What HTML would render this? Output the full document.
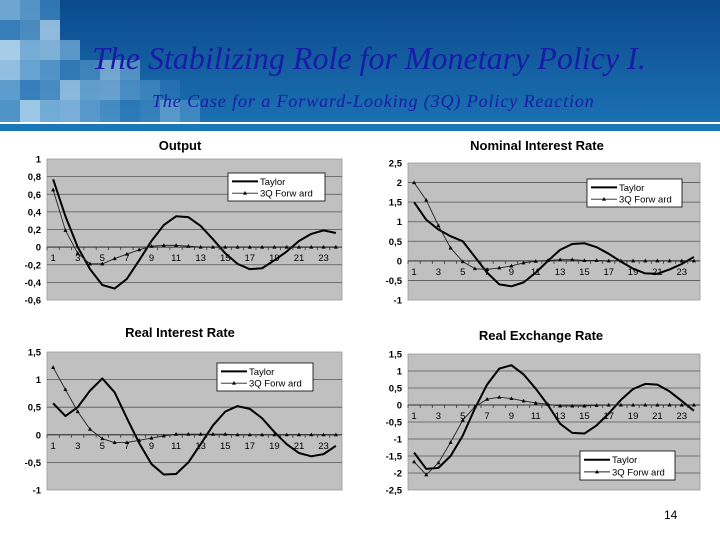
<!DOCTYPE html>
<html><head><meta charset="utf-8"><style>
body{margin:0;width:720px;height:540px;overflow:hidden;background:#fff;font-family:"Liberation Sans",sans-serif;position:relative}
#hdr{position:absolute;left:0;top:0;width:720px;height:122px;background:linear-gradient(#0b4a8c,#1a70b2)}
#band{position:absolute;left:0;top:124px;width:720px;height:7px;background:#1a78b8}
.sq{position:absolute;width:20px;height:20px}
#t1{position:absolute;left:92px;top:40px;font-family:"Liberation Serif",serif;font-style:italic;font-size:32px;color:#1a1aa8;white-space:nowrap}
#t2{position:absolute;left:152px;top:91px;font-family:"Liberation Serif",serif;font-style:italic;font-size:18px;letter-spacing:0.9px;color:#1a1aa8;white-space:nowrap}
#pn{position:absolute;left:664px;top:508px;font-size:12px;color:#000}
</style></head><body>
<div id="hdr"></div>
<div id="band"></div>
<div id="mosaic"></div>
<div id="t1">The Stabilizing Role for Monetary Policy I.</div>
<div id="t2">The Case for a Forward-Looking (3Q) Policy Reaction</div>
<div id="pn">14</div>
<svg id="svg" width="720" height="540" style="position:absolute;left:0;top:0"></svg>
<script>
const outTaylor=[0.77,0.35,0.0,-0.25,-0.43,-0.47,-0.36,-0.15,0.07,0.25,0.35,0.34,0.24,0.09,-0.07,-0.19,-0.25,-0.24,-0.15,-0.05,0.07,0.15,0.19,0.16];
const outFwd=[0.65,0.19,-0.07,-0.19,-0.19,-0.13,-0.08,-0.03,0.01,0.02,0.02,0.01,0,0,0,0,0,0,0,0,0,0,0,0];
const nomTaylor=[1.5,1.05,0.8,0.63,0.5,0.1,-0.3,-0.6,-0.65,-0.55,-0.3,0.0,0.28,0.43,0.45,0.35,0.18,-0.02,-0.2,-0.32,-0.33,-0.22,-0.08,0.1];
const nomFwd=[2.0,1.55,0.9,0.33,-0.02,-0.2,-0.22,-0.18,-0.13,-0.05,-0.01,0.01,0.03,0.03,0.01,0.01,0,0,0,0,0,0,0,0];
const rirTaylor=[0.57,0.34,0.5,0.8,1.02,0.77,0.3,-0.15,-0.53,-0.72,-0.71,-0.5,-0.17,0.17,0.42,0.52,0.47,0.3,0.05,-0.17,-0.33,-0.39,-0.35,-0.2];
const rirFwd=[1.22,0.82,0.42,0.1,-0.07,-0.14,-0.14,-0.1,-0.06,-0.02,0.01,0.01,0.01,0.01,0.01,0,0,0,0,0,0,0,0,0];
const rerTaylor=[-1.4,-1.88,-1.85,-1.5,-0.9,-0.1,0.6,1.07,1.17,0.9,0.48,0.0,-0.55,-0.82,-0.84,-0.6,-0.25,0.15,0.47,0.62,0.6,0.4,0.12,-0.17];
const rerFwd=[-1.67,-2.05,-1.7,-1.1,-0.45,-0.05,0.17,0.23,0.19,0.12,0.06,0.02,-0.03,-0.03,-0.03,-0.01,0,0,0,0,0,0,0,0];
const categories=[1,2,3,4,5,6,7,8,9,10,11,12,13,14,15,16,17,18,19,20,21,22,23,24];
const outTicks=[1,0.8,0.6,0.4,0.2,0,-0.2,-0.4,-0.6];
const nomTicks=[2.5,2,1.5,1,0.5,0,-0.5,-1];
const rirTicks=[1.5,1,0.5,0,-0.5,-1];
const rerTicks=[1.5,1,0.5,0,-0.5,-1,-1.5,-2,-2.5];

// mosaic
const mc=['#7fb4dc','#5a9acb','#a8d0ec','#3f86c0','#92c2e4','#6aa6d4','#c0e0f4'];
const rowLen=[3,3,4,7,9,10];
const mz=document.getElementById('mosaic');
for(let r=0;r<6;r++)for(let c=0;c<rowLen[r];c++){
  const d=document.createElement('div');d.className='sq';
  
  
  d.style.left=(c*20)+'px';d.style.top=(r*20)+'px';if(r===5)d.style.height='22px';
  d.style.background=mc[(r*3+c*5)%mc.length];d.style.opacity=(0.85-c*0.06).toFixed(2);
  mz.appendChild(d);
}

const svg=document.getElementById('svg');const NS='http://www.w3.org/2000/svg';
function el(t,a,p){const e=document.createElementNS(NS,t);for(const k in a)e.setAttribute(k,a[k]);(p||svg).appendChild(e);return e;}
function fmt(v){return String(v).replace('.',',');}
function chart(name,title,tx,ty,L,R,T,B,ticks,s1,s2,leg){
  const g=el('g',{});
  
  
  const mx=ticks[0],mn=ticks[ticks.length-1];
  const y=v=>T+(mx-v)/(mx-mn)*(B-T);
  const step=(R-L)/categories.length;
  const x=i=>L+step*(i+0.5);
  const bg=el('rect',{x:L,y:T,width:R-L,height:B-T,fill:'#c0c0c0',stroke:'#999','stroke-width':0.8},g);
  
  const tt=el('text',{x:tx,y:ty,'text-anchor':'middle','font-size':13,'font-weight':'bold',fill:'#000'},g);tt.textContent=title;
  
  ticks.forEach(v=>{
    if(v!==mx&&v!==mn){const gl=el('line',{x1:L,x2:R,y1:y(v),y2:y(v),stroke:'#555','stroke-width':0.8},g);}
    const t=el('text',{x:L-6,y:y(v)+3.5,'text-anchor':'end','font-size':9.5,'font-weight':'bold',fill:'#000'},g);t.textContent=fmt(v);
    
  });
  const ax=el('line',{x1:L,x2:R,y1:y(0),y2:y(0),stroke:'#333','stroke-width':1},g);
  
  categories.forEach((c,i)=>{
    el('line',{x1:L+step*i,x2:L+step*i,y1:y(0),y2:y(0)+3,stroke:'#333','stroke-width':0.8},g);
    if(i%2===0){const t=el('text',{x:x(i),y:y(0)+14,'text-anchor':'middle','font-size':9.5,fill:'#000'},g);t.textContent=c;
      }
  });
  const p1=el('polyline',{points:s1.map((v,i)=>x(i)+','+y(v)).join(' '),fill:'none',stroke:'#000','stroke-width':2,'stroke-linejoin':'round'},g);
  
  const p2=el('polyline',{points:s2.map((v,i)=>x(i)+','+y(v)).join(' '),fill:'none',stroke:'#222','stroke-width':0.9},g);
  
  s2.forEach((v,i)=>{const m=el('polygon',{points:`${x(i)},${y(v)-2.2} ${x(i)-2},${y(v)+1.5} ${x(i)+2},${y(v)+1.5}`,fill:'#000'},g);
    });
  const [lx,ly,lw,lh]=leg;
  const lg=el('g',{},g);
  
  
  el('rect',{x:lx,y:ly,width:lw,height:lh,fill:'#fff',stroke:'#000','stroke-width':0.8},lg);
  el('line',{x1:lx+4,x2:lx+30,y1:ly+lh*0.3,y2:ly+lh*0.3,stroke:'#000','stroke-width':2},lg);
  el('line',{x1:lx+4,x2:lx+30,y1:ly+lh*0.72,y2:ly+lh*0.72,stroke:'#222','stroke-width':0.9},lg);
  el('polygon',{points:`${lx+17},${ly+lh*0.72-2.2} ${lx+15},${ly+lh*0.72+1.5} ${lx+19},${ly+lh*0.72+1.5}`,fill:'#000'},lg);
  const a=el('text',{x:lx+32,y:ly+lh*0.3+3.5,'font-size':9.5,fill:'#000'},lg);a.textContent='Taylor';
  
  const b=el('text',{x:lx+32,y:ly+lh*0.72+3.5,'font-size':9.5,fill:'#000'},lg);b.textContent='3Q Forw ard';
  
}
chart('output-chart','Output',180,150,47,342,159,300,outTicks,outTaylor,outFwd,[228,173,97,28]);
chart('nominal-interest-chart','Nominal Interest Rate',537,150,408,700,163,300,nomTicks,nomTaylor,nomFwd,[587,179,95,28]);
chart('real-interest-chart','Real Interest Rate',180,337,47,342,352,490,rirTicks,rirTaylor,rirFwd,[217,363,96,28]);
chart('real-exchange-chart','Real Exchange Rate',541,340,408,700,354,490,rerTicks,rerTaylor,rerFwd,[580,451,95,29]);
</script>
</body></html>
